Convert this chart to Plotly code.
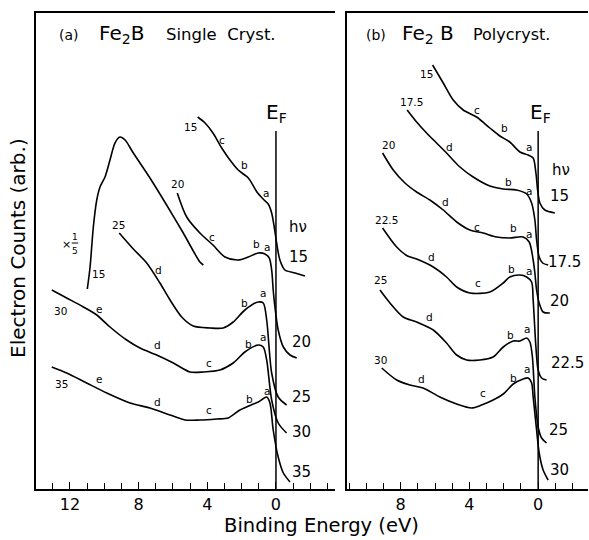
import plotly.graph_objects as go

# ---------------- data (binding energy in eV, counts in arb. units) ----------------
# Panel (a): Fe2B single crystal
a15_e = [4.56, 4.13, 3.67, 3.16, 2.68, 2.20, 1.61, 1.11, 0.75, 0.45, 0.25, 0.10, -0.04, -0.23, -0.52, -1.11, -1.69]
a15_c = [372, 366, 356, 341, 329, 319, 311, 297, 290, 285, 276, 262, 246, 229, 219, 216, 213]

a20_e = [5.75, 5.20, 4.43, 3.67, 2.97, 2.20, 1.61, 1.03, 0.64, 0.39, 0.25, 0.16, 0.06, -0.13, -0.43, -0.82, -1.21]
a20_c = [296, 272, 256, 244, 232, 229, 232, 236, 235, 231, 219, 199, 182, 159, 142, 134, 131]

ax15_e = [10.99, 10.83, 10.64, 10.44, 10.25, 9.96, 9.67, 9.38, 9.09, 8.79, 8.31, 7.34, 6.37, 5.40, 4.43, 4.23]
ax15_c = [200, 222, 262, 289, 302, 312, 329, 346, 352, 349, 336, 311, 284, 256, 227, 224]

a25_e = [9.13, 8.31, 7.53, 6.76, 6.17, 5.49, 4.82, 3.84, 3.07, 2.49, 1.81, 1.03, 0.74, 0.54, 0.25, -0.13, -0.62]
a25_c = [256, 240, 226, 206, 189, 172, 163, 161, 161, 167, 179, 187, 186, 169, 116, 92, 84]

a30_e = [13.06, 12.19, 11.22, 10.44, 9.67, 8.70, 7.92, 6.95, 5.98, 5.01, 4.23, 3.26, 2.49, 1.81, 1.03, 0.74, 0.54, 0.25, -0.13, -0.62]
a30_c = [199, 191, 182, 174, 162, 149, 141, 134, 126, 117, 117, 119, 126, 137, 144, 142, 129, 89, 66, 56]

a35_e = [13.06, 12.19, 11.03, 9.86, 8.50, 7.34, 6.17, 5.30, 4.43, 3.45, 2.78, 2.10, 1.32, 1.03, 0.54, 0.35, 0.16, -0.13, -0.43, -0.82]
a35_c = [122, 116, 106, 96, 86, 81, 74, 69, 69, 70, 71, 79, 85, 87, 92, 86, 59, 32, 16, 7]

# Panel (b): Fe2B polycrystal
b15_e = [6.14, 5.52, 4.94, 4.36, 3.58, 2.81, 2.23, 1.65, 1.06, 0.58, 0.29, 0.13, 0.03, -0.10, -0.39, -0.97]
b15_c = [424, 406, 389, 379, 372, 361, 353, 347, 337, 334, 331, 316, 299, 286, 279, 276]

b175_e = [7.62, 7.07, 6.49, 5.91, 5.33, 4.55, 3.78, 2.81, 2.03, 1.26, 0.67, 0.38, 0.19, 0.09, -0.06, -0.26, -0.58]
b175_c = [379, 367, 356, 346, 336, 322, 312, 303, 300, 299, 295, 286, 269, 249, 232, 226, 224]

b20_e = [9.05, 8.43, 7.75, 7.07, 6.30, 5.52, 4.74, 3.97, 3.20, 2.42, 1.65, 0.87, 0.52, 0.29, 0.19, 0.09, -0.06, -0.29, -0.68]
b20_c = [336, 319, 306, 297, 289, 279, 267, 259, 256, 252, 251, 252, 247, 229, 216, 199, 186, 177, 176]

b225_e = [9.05, 8.23, 7.60, 7.07, 6.10, 5.33, 4.74, 3.97, 2.81, 2.03, 1.65, 1.06, 0.67, 0.38, 0.29, 0.13, 0.00, -0.20, -0.49]
b225_c = [261, 242, 233, 230, 222, 212, 202, 196, 197, 206, 212, 214, 212, 207, 189, 142, 119, 111, 109]

b25_e = [9.20, 8.62, 7.85, 7.07, 6.10, 5.33, 4.74, 4.16, 3.39, 2.62, 2.03, 1.45, 1.06, 0.67, 0.48, 0.34, 0.19, 0.00, -0.20, -0.49]
b25_c = [199, 186, 172, 167, 159, 146, 134, 129, 129, 132, 142, 148, 148, 151, 147, 133, 92, 62, 51, 46]

b30_e = [9.10, 8.23, 7.46, 6.69, 5.72, 4.74, 3.87, 3.29, 2.62, 2.03, 1.45, 0.87, 0.58, 0.38, 0.29, 0.09, -0.06, -0.29, -0.58]
b30_c = [121, 109, 104, 101, 92, 85, 81, 84, 89, 95, 105, 110, 111, 106, 92, 59, 36, 19, 9]

ef_top = 358  # height of the Fermi-level marker line

# text labels: (text, eV, counts)
a_start = [("15", 4.97, 362), ("20", 5.75, 305), ("25", 9.18, 264), ("15", 10.31, 215),
           ("30", 12.58, 178), ("35", 12.52, 105)]
a_letters = [("c", 3.13, 349), ("b", 1.81, 324), ("a", 0.60, 296),
             ("c", 3.73, 252), ("b", 1.11, 245), ("a", 0.52, 242),
             ("d", 6.86, 219), ("b", 1.81, 186), ("a", 0.77, 196),
             ("e", 10.29, 180), ("d", 6.91, 144), ("c", 3.88, 126), ("b", 1.61, 145), ("a", 0.74, 152),
             ("e", 10.31, 110), ("d", 6.91, 87), ("c", 3.88, 79), ("b", 1.56, 90), ("a", 0.54, 98)]
a_hv = [("hν", -1.30, 262), ("15", -1.30, 232), ("20", -1.50, 147), ("25", -1.50, 92),
        ("30", -1.50, 57), ("35", -1.50, 17)]

b_start = [("15", 6.49, 415), ("17.5", 7.36, 387), ("20", 8.72, 344), ("22.5", 8.81, 269),
           ("25", 9.20, 209), ("30", 9.20, 129)]
b_letters = [("c", 3.55, 379), ("b", 1.94, 361), ("a", 0.52, 342),
             ("d", 5.17, 342), ("b", 1.74, 307), ("a", 0.52, 298),
             ("d", 5.38, 287), ("c", 3.58, 262), ("b", 1.45, 261), ("a", 0.52, 255),
             ("d", 6.18, 232), ("c", 3.49, 206), ("b", 1.55, 220), ("a", 0.52, 218),
             ("d", 6.30, 172), ("b", 1.59, 154), ("a", 0.67, 160),
             ("d", 6.78, 110), ("c", 3.20, 96), ("b", 1.45, 111), ("a", 0.66, 120)]
b_hv = [("hν", -1.32, 319), ("15", -1.26, 293), ("17.5", -1.55, 227), ("20", -1.26, 188),
        ("22.5", -1.70, 126), ("25", -1.20, 59), ("30", -1.26, 19)]

major_ticks = [12, 8, 4, 0]

FONT = "DejaVu Sans"
W, H = 589, 540

fig = go.Figure()

def curve(xs, ys, xa, ya):
    fig.add_trace(go.Scatter(x=xs, y=ys, mode="lines", xaxis=xa, yaxis=ya,
                             line=dict(color="black", width=1.6, shape="spline", smoothing=0.8),
                             showlegend=False, hoverinfo="skip"))

for xs, ys in [(a15_e, a15_c), (a20_e, a20_c), (ax15_e, ax15_c), (a25_e, a25_c), (a30_e, a30_c), (a35_e, a35_c)]:
    curve(xs, ys, "x", "y")
for xs, ys in [(b15_e, b15_c), (b175_e, b175_c), (b20_e, b20_c), (b225_e, b225_c), (b25_e, b25_c), (b30_e, b30_c)]:
    curve(xs, ys, "x2", "y2")

# Fermi level lines
for xa, ya in [("x", "y"), ("x2", "y2")]:
    fig.add_trace(go.Scatter(x=[0, 0], y=[0, ef_top], mode="lines", xaxis=xa, yaxis=ya,
                             line=dict(color="black", width=1.5), showlegend=False, hoverinfo="skip"))

ann = []
def lab(items, xr, yr, size):
    for t, x, y in items:
        ann.append(dict(text=t, x=x, y=y, xref=xr, yref=yr, showarrow=False,
                        xanchor="center", yanchor="middle",
                        font=dict(size=size, family=FONT, color="black")))

lab(a_start, "x", "y", 10.5)
lab(a_letters, "x", "y", 10.5)
lab(a_hv, "x", "y", 15)
lab(b_start, "x2", "y2", 10.5)
lab(b_letters, "x2", "y2", 10.5)
lab(b_hv, "x2", "y2", 15)

# x 1/5 marker
lab([("×", 12.2, 244)], "x", "y", 11)
lab([("1", 11.72, 252), ("5", 11.72, 238)], "x", "y", 9)
fig.add_shape(type="line", x0=11.9, x1=11.52, y0=246, y1=246, xref="x", yref="y",
              line=dict(color="black", width=1))

# E_F labels
for xr, yr, xv in [("x", "y", -0.05), ("x2", "y2", -0.12)]:
    ann.append(dict(text="E<sub>F</sub>", x=xv, y=ef_top + 3, xref=xr, yref=yr, showarrow=False,
                    xanchor="center", yanchor="bottom",
                    font=dict(size=20, family=FONT, color="black")))

def ptext(t, px, py, size):
    ann.append(dict(text=t, x=px / W, y=1 - py / H, xref="paper", yref="paper",
                    xanchor="left", yanchor="middle", showarrow=False,
                    font=dict(size=size, family=FONT, color="black")))

# panel titles
ptext("(a)", 57, 35, 14)
ptext("Fe<sub>2</sub>B", 97, 34, 20)
ptext("Single&nbsp;&nbsp;Cryst.", 164, 35, 16.5)
ptext("(b)", 364, 35, 14)
ptext("Fe<sub>2</sub>&nbsp;B", 400, 34, 20)
ptext("Polycryst.", 471, 35, 16)

# axis titles
ann.append(dict(text="Binding Energy (eV)", x=321 / W, y=1 - 525 / H, xref="paper", yref="paper",
                xanchor="center", yanchor="middle",
                showarrow=False, font=dict(size=19.5, family=FONT, color="black")))
ann.append(dict(text="Electron Counts (arb.)", x=18 / W, y=1 - 248 / H, xref="paper", yref="paper",
                xanchor="center", yanchor="middle",
                textangle=-90, showarrow=False, font=dict(size=20, family=FONT, color="black")))

ydom = [1 - 489 / H, 1 - 13 / H]
axis_common = dict(showline=True, linecolor="black", linewidth=1.5, mirror=True, ticks="inside",
                   ticklen=7, tickwidth=1.2, tickcolor="black", showgrid=False, zeroline=False,
                   tickvals=major_ticks, ticktext=[str(v) for v in major_ticks],
                   minor=dict(dtick=1, tick0=0, ticks="inside", ticklen=6, tickwidth=1.2,
                              tickcolor="black", showgrid=False),
                   tickfont=dict(size=16, family=FONT, color="black"))

fig.update_layout(
    width=W, height=H, margin=dict(l=0, r=0, t=0, b=0),
    paper_bgcolor="white", plot_bgcolor="white",
    annotations=ann,
    xaxis=dict(domain=[36 / W, 335 / W], range=[13.98, -3.44], anchor="y", **axis_common),
    xaxis2=dict(domain=[347 / W, 588 / W], range=[11.12, -2.9], anchor="y2", **axis_common),
    yaxis=dict(domain=ydom, range=[0, 476], showline=True, linecolor="black", linewidth=1.5,
               showticklabels=False, ticks="", showgrid=False, zeroline=False, anchor="x"),
    yaxis2=dict(domain=ydom, range=[0, 476], showline=True, linecolor="black", linewidth=1.5,
                showticklabels=False, ticks="", showgrid=False, zeroline=False, anchor="x2"),
)

fig.write_html("out.html")
